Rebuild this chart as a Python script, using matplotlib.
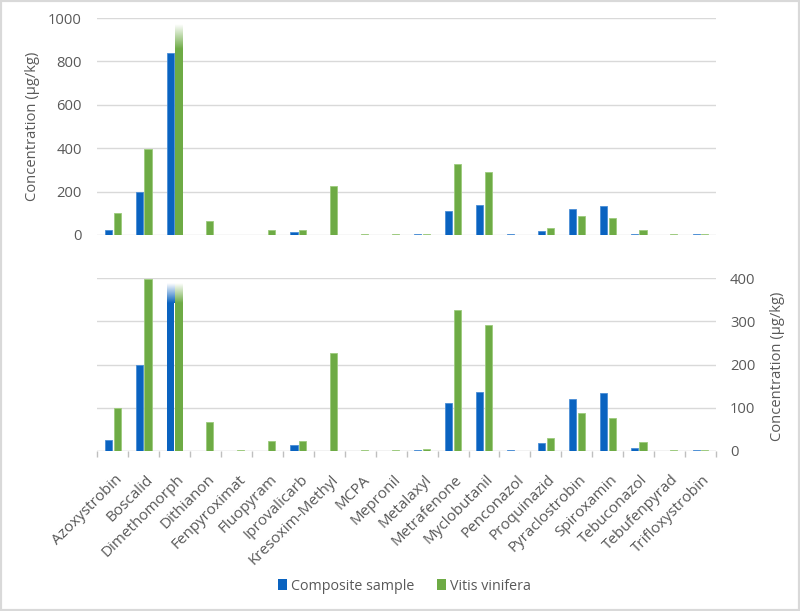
import matplotlib
matplotlib.use("Agg")
import matplotlib.pyplot as plt
import matplotlib.transforms as mtransforms
from matplotlib.patches import Rectangle, Patch
import numpy as np

categories = ["Azoxystrobin", "Boscalid", "Dimethomorph", "Dithianon", "Fenpyroximat",
              "Fluopyram", "Iprovalicarb", "Kresoxim-Methyl", "MCPA", "Mepronil",
              "Metalaxyl", "Metrafenone", "Myclobutanil", "Penconazol", "Proquinazid",
              "Pyraclostrobin", "Spiroxamin", "Tebuconazol", "Tebufenpyrad", "Trifloxystrobin"]
composite = [25, 200, 841, 0, 0, 0, 15, 0, 0, 0, 3, 112, 136, 3, 18, 121, 133, 6, 0, 3]
vitis = [100, 397, 1100, 66, 2, 24, 22, 226, 3, 3, 5, 326, 291, 1, 30, 89, 77, 21, 3, 3]
top_ticks = [0, 200, 400, 600, 800, 1000]
bottom_ticks = [0, 100, 200, 300, 400]
series_names = ["Composite sample", "Vitis vinifera"]

BLUE = "#0A63C0"
BLUE_EDGE = "#4A8ED6"
GREEN = "#6EAB45"
GREEN_EDGE = "#9CCB7C"
TEXT = "#595959"
GRID = "#D9D9D9"
AXIS = "#BFBFBF"
FS = 10.6
FSX = 11
W = 0.23
OFF = 0.14

plt.rcParams['font.family'] = ['Open Sans', 'DejaVu Sans']

fig = plt.figure(figsize=(8, 6.11), dpi=100)
x0, w = 97.3 / 800, (716 - 97.3) / 800
ax_top = fig.add_axes([x0, 1 - 235 / 611, w, 217 / 611])
ax_bot = fig.add_axes([x0, 1 - 451 / 611, w, 173 / 611])

xs = np.arange(len(categories))


def draw_bars(ax, xpos, vals, color, edge, ymax):
    solid_top = 0.855 * ymax
    fade_top = 0.97 * ymax
    rgb = matplotlib.colors.to_rgb(color)
    for x, v in zip(xpos, vals):
        if v <= 0:
            continue
        if v <= ymax:
            ax.bar(x, v, width=W, color=color, edgecolor=edge, linewidth=0.6, zorder=3)
        else:
            ax.bar(x, solid_top, width=W, color=color, edgecolor='none', linewidth=0, zorder=3)
            n = 64
            grad = np.ones((n, 1, 4))
            grad[:, 0, :3] = rgb
            grad[:, 0, 3] = np.linspace(1, 0, n)
            ax.imshow(grad, extent=[x - W / 2, x + W / 2, solid_top, fade_top],
                      origin='lower', aspect='auto', zorder=3, interpolation='bilinear')


for ax, ymax, ticks in [(ax_top, 1000, top_ticks), (ax_bot, 400, bottom_ticks)]:
    draw_bars(ax, xs - OFF, composite, BLUE, BLUE_EDGE, ymax)
    draw_bars(ax, xs + OFF, vitis, GREEN, GREEN_EDGE, ymax)
    ax.set_xlim(-0.5, len(categories) - 0.5)
    ax.set_ylim(0, ymax)
    ax.set_yticks(ticks)
    for t in ticks:
        if t > 0:
            ax.axhline(t, color=GRID, linewidth=1, zorder=1)
    for s in ax.spines.values():
        s.set_visible(False)
    ax.tick_params(axis='y', length=0, labelsize=FS, labelcolor=TEXT)
    ax.set_facecolor('none')

# top panel
ax_top.axhline(0, color=GRID, linewidth=1, zorder=2)
ax_top.set_xticks([])
ax_top.tick_params(axis='y', pad=11)
ax_top.set_ylabel("Concentration (µg/kg)", fontsize=FS, color=TEXT)
ax_top.yaxis.set_label_coords(-0.093, 0.5)

# bottom panel
ax_bot.axhline(0, color=AXIS, linewidth=1, zorder=2)
ax_bot.yaxis.tick_right()
ax_bot.yaxis.set_label_position('right')
ax_bot.tick_params(axis='y', pad=10)
ax_bot.set_ylabel("Concentration (µg/kg)", fontsize=FS, color=TEXT, rotation=90)
ax_bot.yaxis.set_label_coords(1.088, 0.49)
ax_bot.set_xticks(xs)
ax_bot.set_xticks(np.arange(len(categories) + 1) - 0.5, minor=True)
ax_bot.tick_params(axis='x', which='major', length=0, pad=19, labelsize=FSX, labelcolor=TEXT)
ax_bot.tick_params(axis='x', which='minor', length=4, color=AXIS, width=1)
ax_bot.set_xticklabels(categories, rotation=45, ha='right', va='center', rotation_mode='anchor')
shift = mtransforms.ScaledTranslation(7 / 100, 0, fig.dpi_scale_trans)
for lab in ax_bot.get_xticklabels():
    lab.set_transform(lab.get_transform() + shift)

handles = [Patch(facecolor=BLUE, edgecolor='none'), Patch(facecolor=GREEN, edgecolor='none')]
fig.legend(handles, series_names, loc='center', bbox_to_anchor=(0.506, 1 - 586 / 611),
           ncol=2, frameon=False, handlelength=0.6, handleheight=0.7, handletextpad=0.3,
           columnspacing=1.6, fontsize=10.3, labelcolor=TEXT)

fig.patches.append(Rectangle((0, 0), 1, 1, transform=fig.transFigure, fill=False,
                             edgecolor=GRID, linewidth=3))

fig.savefig("out.png", dpi=100, facecolor='white')
